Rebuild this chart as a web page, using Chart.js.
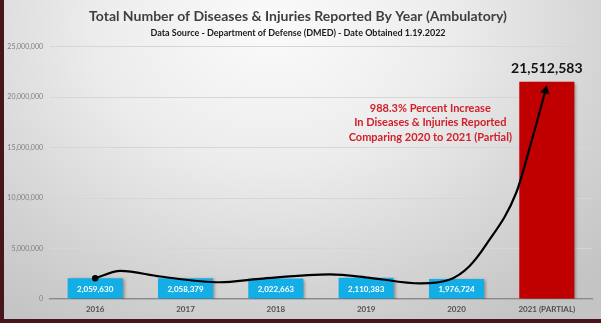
<!DOCTYPE html>
<html>
<head>
<meta charset="utf-8">
<script src="https://cdn.jsdelivr.net/npm/chart.js@4"></script>
<style>
  html, body { margin: 0; padding: 0; }
  body { width: 601px; height: 323px; background: #45161a; overflow: hidden; position: relative; }
  #frame {
    position: absolute; left: 4px; top: 0; width: 597px; height: 319px;
    background: radial-gradient(ellipse 75% 110% at 45% 8%, #fbfbfb 0%, #ececec 40%, #d4d4d4 75%, #c4c4c4 100%);
  }
  canvas { display: block; }
</style>
</head>
<body>
<div id="frame"><canvas id="chart" width="597" height="319"></canvas></div>
<script>
// data
const years = ['2016', '2017', '2018', '2019', '2020', '2021 (PARTIAL)'];
const cases = [2059630, 2058379, 2022663, 2110383, 1976724, 21512583];
const yTicks = [0, 5000000, 10000000, 15000000, 20000000, 25000000];

// hand-drawn arrow in the original, in (category index, value) space
const arrowX = [0, 0.28, 0.72, 1.38, 1.82, 2.6, 3.04, 3.6, 3.92, 4.14, 4.33, 4.66, 4.82, 4.985];
const arrowY = [2059630, 2790000, 2230000, 1660000, 2000000, 2430000, 2100000, 1540000, 1900000, 3220000, 5400000, 10500000, 15300000, 20650000];

const noteLines = ['988.3% Percent Increase', 'In Diseases & Injuries Reported', 'Comparing 2020 to 2021 (Partial)'];

const BLUE = '#14aee6';
const RED = '#c00000';
const FONT = 'Lato, "Liberation Sans", sans-serif';

Chart.defaults.font.family = FONT;

// soft drop shadow under the bars
const barShadow = {
    id: 'barShadow',
    beforeDatasetDraw(chart, args) {
        if (args.meta.type !== 'bar') return;
        const ctx = chart.ctx;
        ctx.save();
        ctx.shadowColor = 'rgba(0,0,0,0.35)';
        ctx.shadowBlur = 3;
        ctx.shadowOffsetX = 2;
        ctx.shadowOffsetY = 1;
    },
    afterDatasetDraw(chart, args) {
        if (args.meta.type !== 'bar') return;
        chart.ctx.restore();
    }
};

// value labels + red note text
const barLabels = {
    id: 'barLabels',
    afterDatasetsDraw(chart) {
        const ctx = chart.ctx;
        const meta = chart.getDatasetMeta(1);
        ctx.save();
        ctx.textAlign = 'center';
        ctx.textBaseline = 'middle';
        meta.data.forEach((bar, i) => {
            const txt = cases[i].toLocaleString('en-US');
            if (i < cases.length - 1) {
                ctx.font = 'bold 8px ' + FONT;
                ctx.fillStyle = '#ffffff';
                ctx.fillText(txt, bar.x, (bar.y + bar.base) / 2 + 1);
            } else {
                ctx.font = 'bold 14px ' + FONT;
                ctx.fillStyle = '#111111';
                ctx.fillText(txt, bar.x, bar.y - 13);
            }
        });

        const xs = chart.scales.xc;
        const ys = chart.scales.y;
        const cx = xs.getPixelForValue(3.71);
        const top = ys.getPixelForValue(18850000);
        ctx.font = 'bold 11px ' + FONT;
        ctx.fillStyle = '#d0202a';
        noteLines.forEach((line, i) => ctx.fillText(line, cx, top + i * 14.2));
        ctx.restore();
    }
};

new Chart(document.getElementById('chart'), {
    type: 'bar',
    data: {
        labels: years,
        datasets: [{
            type: 'line',
            data: arrowX.map((x, i) => ({ x: x, y: arrowY[i] })),
            xAxisID: 'xc',
            yAxisID: 'y',
            borderColor: '#000000',
            borderWidth: 2.2,
            cubicInterpolationMode: 'monotone',
            pointRadius: (c) => c.dataIndex === 0 ? 3.2 : (c.dataIndex === arrowX.length - 1 ? 5.5 : 0),
            pointStyle: (c) => c.dataIndex === arrowX.length - 1 ? 'triangle' : 'circle',
            rotation: (c) => c.dataIndex === arrowX.length - 1 ? 13 : 0,
            pointBackgroundColor: '#000000',
            pointBorderColor: '#000000',
            pointBorderWidth: 0,
            order: 0
        }, {
            data: cases,
            xAxisID: 'x',
            yAxisID: 'y',
            grouped: false,
            backgroundColor: cases.map((v, i) => i === cases.length - 1 ? RED : BLUE),
            categoryPercentage: 1,
            barPercentage: 0.61,
            order: 1
        }]
    },
    options: {
        responsive: false,
        animation: false,
        layout: { padding: { left: 0, right: 9, top: 0, bottom: 0 } },
        plugins: {
            legend: { display: false },
            tooltip: { enabled: false },
            title: {
                display: true,
                text: 'Total Number of Diseases & Injuries Reported By Year (Ambulatory)',
                color: '#3f3f3f',
                font: { size: 14, weight: 'bold', family: FONT },
                padding: { top: 8, bottom: 2 }
            },
            subtitle: {
                display: true,
                text: 'Data Source - Department of Defense (DMED) - Date Obtained 1.19.2022',
                color: '#1a1a1a',
                font: { size: 9, weight: 'bold', family: FONT },
                padding: { top: 1, bottom: 8 }
            }
        },
        scales: {
            x: {
                type: 'category',
                offset: true,
                grid: { display: false, drawTicks: false },
                border: { color: '#8a8a8a', width: 1.5 },
                ticks: { color: '#505050', font: { size: 8, weight: 'bold' }, padding: 6 },
                afterFit(s) { s.height = 20; }
            },
            xc: {
                type: 'linear',
                display: false,
                offset: false,
                min: -0.5,
                max: 5.5
            },
            y: {
                min: 0,
                max: 25000000,
                afterBuildTicks(s) { s.ticks = yTicks.map(v => ({ value: v })); },
                grid: { color: '#d6d6d6', drawTicks: false },
                border: { display: false },
                ticks: {
                    color: '#7f7f7f',
                    font: { size: 7 },
                    padding: 7,
                    callback: (v) => v.toLocaleString('en-US')
                },
                afterFit(s) { s.width = 46; }
            }
        }
    },
    plugins: [barShadow, barLabels]
});
</script>
</body>
</html>
